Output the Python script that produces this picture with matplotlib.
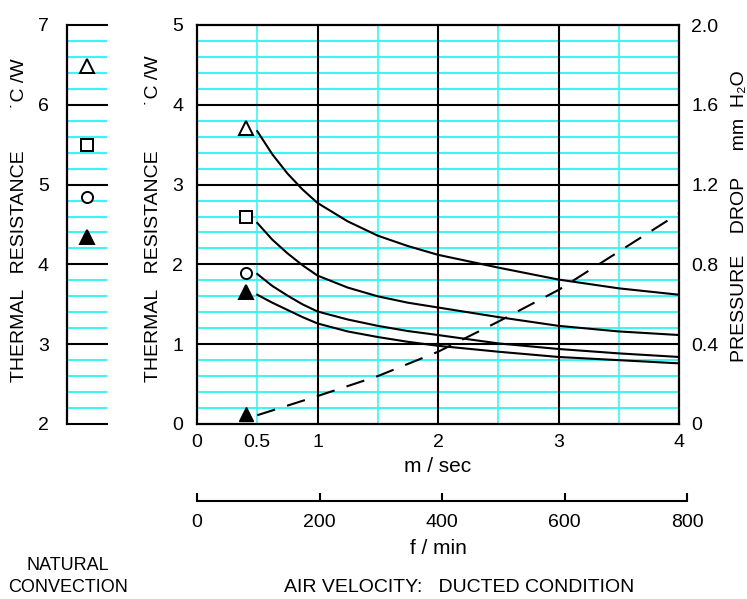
import matplotlib
matplotlib.use("Agg")
import matplotlib.pyplot as plt
import numpy as np

plt.rcParams.update({
    "font.family": ["Liberation Sans", "DejaVu Sans"],
    "font.size": 14,
})

# --- data ---
velocity = [0.5, 0.625, 0.75, 0.875, 1.0, 1.25, 1.5, 1.75, 2.0, 2.5, 3.0, 3.5, 4.0]   # m/sec
r_open_tri = [3.67, 3.38, 3.14, 2.94, 2.77, 2.54, 2.36, 2.23, 2.12, 1.96, 1.81, 1.70, 1.62]  # degC/W
r_square = [2.52, 2.31, 2.14, 1.99, 1.86, 1.71, 1.60, 1.52, 1.46, 1.34, 1.23, 1.16, 1.115]
r_circle = [1.88, 1.73, 1.61, 1.50, 1.41, 1.31, 1.23, 1.165, 1.115, 1.01, 0.94, 0.885, 0.84]
r_filled_tri = [1.62, 1.52, 1.43, 1.34, 1.26, 1.16, 1.09, 1.03, 0.98, 0.906, 0.84, 0.80, 0.76]

pressure_velocity = [0.5, 1.0, 1.5, 2.0, 2.5, 3.0, 3.5, 4.0]
pressure_drop = [0.044, 0.14, 0.24, 0.362, 0.513, 0.672, 0.864, 1.056]   # mm H2O

legend_markers = ["^", "s", "o", "^"]
legend_filled = [False, False, False, True]
legend_x = 0.41
legend_values = [3.71, 2.59, 1.89, 1.65]
pressure_marker = 0.05
natural_values = [6.49, 5.50, 4.84, 4.34]

CYAN = "#40f4f4"
W, H = 747, 599


def frac(x0, y0, x1, y1):
    """pixel box (top-left origin) -> figure fraction rect"""
    return [x0 / W, 1 - y1 / H, (x1 - x0) / W, (y1 - y0) / H]


fig = plt.figure(figsize=(W / 100, H / 100), dpi=100)

# ---------------- main ducted chart ----------------
ax = fig.add_axes(frac(197, 25, 679, 424))
ax.set_xlim(0, 4)
ax.set_ylim(0, 5)
for y in np.arange(0.2, 5.0, 0.2):
    if abs(y - round(y)) > 1e-6:
        ax.axhline(y, color=CYAN, lw=1.5, zorder=1)
for x in [0.5, 1.5, 2.5, 3.5]:
    ax.axvline(x, color=CYAN, lw=1.2, zorder=1)
for y in [1, 2, 3, 4]:
    ax.axhline(y, color="black", lw=1.5, zorder=2)
for x in [1, 2, 3]:
    ax.axvline(x, color="black", lw=1.5, zorder=2)
for s in ax.spines.values():
    s.set_linewidth(1.6)

for series in [r_open_tri, r_square, r_circle, r_filled_tri]:
    ax.plot(velocity, series, color="black", lw=1.5, zorder=3)

for m, filled, v in zip(legend_markers, legend_filled, legend_values):
    ax.plot(legend_x, v, marker=m, ms=9.5 if m == "^" else 8,
            mfc="black" if filled else "white", mec="black", mew=1.4,
            zorder=4, clip_on=False)

ax.set_xticks([0, 0.5, 1, 2, 3, 4])
ax.set_xticklabels(["0", "0.5", "1", "2", "3", "4"])
ax.set_yticks([0, 1, 2, 3, 4, 5])
ax.tick_params(length=0, pad=7, labelsize=14)
ax.tick_params(axis="y", pad=10)

ax2 = ax.twinx()
ax2.set_ylim(0, 2.0)
ax2.plot(pressure_velocity, pressure_drop, color="black", lw=1.5,
         dashes=(9, 6), zorder=3)
ax2.plot(legend_x, pressure_marker, marker="^", ms=9.5, mfc="black",
         mec="black", clip_on=False)
ax2.set_yticks([0, 0.4, 0.8, 1.2, 1.6, 2.0])
ax2.set_yticklabels(["0", "0.4", "0.8", "1.2", "1.6", "2.0"])
ax2.tick_params(length=0, pad=9, labelsize=14)
for s in ax2.spines.values():
    s.set_visible(False)

# ---------------- natural convection strip ----------------
axn = fig.add_axes(frac(67, 25, 107, 424))
axn.set_xlim(0, 1)
axn.set_ylim(2, 7)
for y in np.arange(2.2, 7.0, 0.2):
    if abs(y - round(y)) > 1e-6:
        axn.axhline(y, color=CYAN, lw=1.5, zorder=1)
for y in range(2, 8):
    axn.axhline(y, color="black", lw=1.5, zorder=2, clip_on=False)
for side in ["top", "right", "bottom"]:
    axn.spines[side].set_visible(False)
axn.spines["left"].set_linewidth(1.6)
axn.set_xticks([])
axn.set_yticks(range(2, 8))
axn.tick_params(length=0, pad=13, labelsize=14)
for m, filled, v in zip(legend_markers, legend_filled, natural_values):
    axn.plot(0.5, v, marker=m, ms=9.5 if m == "^" else 8,
             mfc="black" if filled else "white", mec="black", mew=1.4, zorder=4)

# ---------------- f/min scale ----------------
axf = fig.add_axes(frac(197, 500, 687, 500.5))
axf.set_xlim(0, 800)
axf.set_yticks([])
for side in ["top", "right", "left"]:
    axf.spines[side].set_visible(False)
axf.spines["bottom"].set_linewidth(1.5)
axf.set_xticks([0, 200, 400, 600, 800])
axf.tick_params(axis="x", direction="in", length=6, width=1.5, pad=10, labelsize=14)

# ---------------- labels ----------------
def ftext(px, py, s, size=14, **kw):
    fig.text(px / W, 1 - py / H, s, ha="center", va="center", fontsize=size, **kw)

ftext(153, 266, "THERMAL   RESISTANCE", rotation=90)
ftext(153, 80, "\u02d9C /W", rotation=90)
ftext(20, 266, "THERMAL   RESISTANCE", rotation=90)
ftext(20, 83, "\u02d9C /W", rotation=90)
ftext(739, 216, "PRESSURE    DROP     mm  H\u2082O", rotation=90)
ftext(438, 466, "m / sec", size=15)
ftext(438, 548, "f / min", size=15)
ftext(459, 587, "AIR VELOCITY:   DUCTED CONDITION")
ftext(68, 566, "NATURAL", size=13)
ftext(68, 587, "CONVECTION", size=13)

fig.savefig("out.png", dpi=100)
